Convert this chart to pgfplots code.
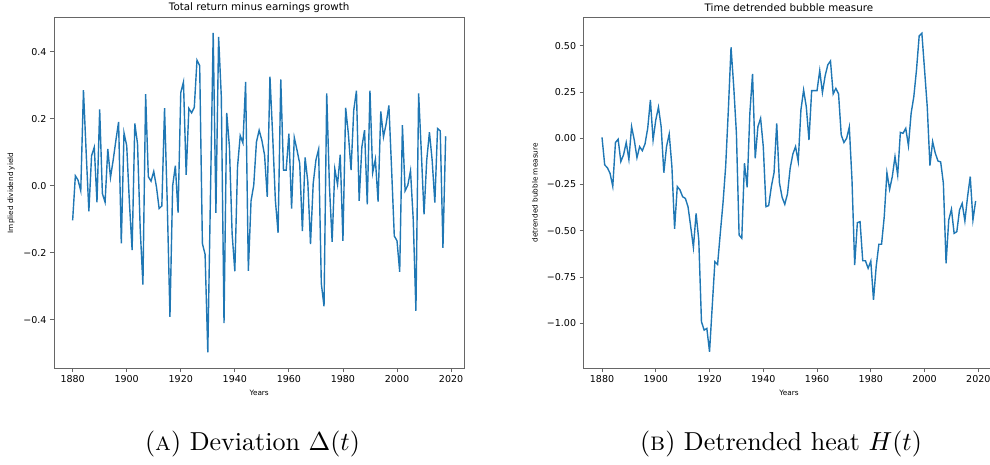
\documentclass[border=0pt]{standalone}
\usepackage{fontspec}
\usepackage{pgfplots}
\pgfplotsset{compat=1.18}
\newfontfamily\djv{DejaVu Sans}
\definecolor{mplblue}{HTML}{1F77B4}

\pgfplotstableread{
year val
1880 -0.103
1881 0.030
1882 0.017
1883 -0.015
1884 0.286
1885 0.10
1886 -0.076
1887 0.090
1888 0.115
1889 -0.049
1890 0.228
1891 -0.023
1892 -0.049
1893 0.110
1894 0.025
1895 0.077
1896 0.136
1897 0.191
1898 -0.172
1899 0.158
1900 0.120
1901 -0.05
1902 -0.192
1903 0.186
1904 0.126
1905 -0.13
1906 -0.295
1907 0.274
1908 0.027
1909 0.014
1910 0.043
1911 -0.003
1912 -0.068
1913 -0.060
1914 0.232
1915 -0.05
1916 -0.391
1917 0.000
1918 0.060
1919 -0.080
1920 0.278
1921 0.310
1922 0.033
1923 0.231
1924 0.218
1925 0.234
1926 0.375
1927 0.359
1928 -0.172
1929 -0.205
1930 -0.497
1931 -0.02
1932 0.457
1933 -0.081
1934 0.445
1935 0.266
1936 -0.410
1937 0.218
1938 0.117
1939 -0.143
1940 -0.255
1941 0.057
1942 0.150
1943 0.128
1944 0.310
1945 -0.254
1946 -0.045
1947 0.002
1948 0.131
1949 0.166
1950 0.136
1951 0.092
1952 -0.033
1953 0.326
1954 0.15
1955 -0.043
1956 -0.140
1957 0.318
1958 0.047
1959 0.047
1960 0.156
1961 -0.068
1962 0.144
1963 0.107
1964 0.067
1965 -0.135
1966 0.085
1967 0.012
1968 -0.174
1969 0.007
1970 0.077
1971 0.109
1972 -0.292
1973 -0.360
1974 0.276
1975 0.0
1976 -0.167
1977 0.050
1978 0.004
1979 0.093
1980 -0.164
1981 0.233
1982 0.156
1983 0.047
1984 0.226
1985 0.284
1986 -0.045
1987 0.116
1988 0.166
1989 -0.055
1990 0.284
1991 0.039
1992 0.079
1993 -0.047
1994 0.222
1995 0.146
1996 0.186
1997 0.240
1998 0.05
1999 -0.150
2000 -0.164
2001 -0.257
2002 0.181
2003 -0.015
2004 0.002
2005 0.045
2006 -0.10
2007 -0.373
2008 0.276
2009 0.10
2010 -0.085
2011 0.077
2012 0.160
2013 0.077
2014 -0.050
2015 0.171
2016 0.164
2017 -0.185
2018 0.148
}\deviation

\pgfplotstableread{
year val
1880 0.005
1881 -0.144
1882 -0.159
1883 -0.19
1884 -0.26
1885 -0.023
1886 -0.005
1887 -0.126
1888 -0.09
1889 -0.023
1890 -0.114
1891 0.063
1892 -0.009
1893 -0.105
1894 -0.045
1895 -0.067
1896 -0.03
1897 0.054
1898 0.207
1899 -0.009
1900 0.099
1901 0.168
1902 0.063
1903 -0.186
1904 -0.045
1905 0.023
1906 -0.153
1907 -0.489
1908 -0.261
1909 -0.279
1910 -0.316
1911 -0.325
1912 -0.37
1913 -0.478
1914 -0.59
1915 -0.406
1916 -0.55
1917 -0.992
1918 -1.037
1919 -1.028
1920 -1.154
1921 -0.91
1922 -0.667
1923 -0.682
1924 -0.514
1925 -0.352
1926 -0.153
1927 0.153
1928 0.492
1929 0.28
1930 0.027
1931 -0.523
1932 -0.541
1933 -0.135
1934 -0.265
1935 0.135
1936 0.348
1937 -0.108
1938 0.063
1939 0.108
1940 -0.045
1941 -0.37
1942 -0.364
1943 -0.261
1944 -0.186
1945 0.081
1946 -0.24
1947 -0.319
1948 -0.357
1949 -0.30
1950 -0.162
1951 -0.085
1952 -0.045
1953 -0.126
1954 0.153
1955 0.261
1956 0.17
1957 -0.009
1958 0.258
1959 0.258
1960 0.258
1961 0.366
1962 0.247
1963 0.337
1964 0.397
1965 0.418
1966 0.24
1967 0.27
1968 0.24
1969 0.018
1970 -0.023
1971 0.0
1972 0.061
1973 -0.225
1974 -0.685
1975 -0.456
1976 -0.451
1977 -0.662
1978 -0.662
1979 -0.703
1980 -0.664
1981 -0.874
1982 -0.694
1983 -0.573
1984 -0.573
1985 -0.424
1986 -0.186
1987 -0.276
1988 -0.207
1989 -0.099
1990 -0.198
1991 0.032
1992 0.027
1993 0.054
1994 -0.04
1995 0.135
1996 0.225
1997 0.37
1998 0.554
1999 0.568
2000 0.37
2001 0.17
2002 -0.148
2003 -0.018
2004 -0.081
2005 -0.123
2006 -0.128
2007 -0.243
2008 -0.676
2009 -0.442
2010 -0.384
2011 -0.514
2012 -0.505
2013 -0.388
2014 -0.352
2015 -0.447
2016 -0.316
2017 -0.207
2018 -0.442
2019 -0.339
}\heat

\pgfplotsset{mpl/.style={
  scale only axis,
  height=350.3pt,
  axis line style={draw=black!60, line width=0.9pt},
  tick pos=left, tick align=outside, major tick length=4pt,
  every tick/.style={draw=black!60, line width=0.8pt},
  ticklabel style={font=\fontsize{9.5}{11}\djv},
  every axis title/.style={font=\fontsize{10.3}{12}\djv, at={(axis description cs:0.5,1.0277)}, anchor=center},
  every axis x label/.style={at={(axis description cs:0.5,-0.07)}, anchor=center, font=\fontsize{7.3}{9}\djv},
  xtick={1880,1900,...,2020},
  xticklabels={1880,1900,1920,1940,1960,1980,2000,2020},
  xlabel={Years},
}}

\begin{document}
\begin{tikzpicture}
\useasboundingbox (0,0) rectangle (990pt,464pt);

\begin{axis}[mpl,
  at={(54pt,96pt)}, anchor=south west,
  width=410.3pt,
  xmin=1873.1, xmax=2024.9,
  ymin=-0.544, ymax=0.502,
  ytick={-0.4,-0.2,0,0.2,0.4},
  yticklabels={−0.4,−0.2,0.0,0.2,0.4},
  title={Total return minus earnings growth},
  ylabel={Implied dividend yield},
  every axis y label/.style={at={(axis description cs:-0.1048,0.5)}, anchor=center, rotate=90, font=\fontsize{7.3}{9}\djv},
]
\addplot[mplblue, line width=1.4pt] table[x=year, y=val] {\deviation};
\end{axis}

\begin{axis}[mpl,
  at={(583.6pt,96pt)}, anchor=south west,
  width=410.7pt,
  xmin=1873.15, xmax=2025.95,
  ymin=-1.242, ymax=0.652,
  ytick={-1,-0.75,-0.5,-0.25,0,0.25,0.5},
  yticklabels={−1.00,−0.75,−0.50,−0.25,0.00,0.25,0.50},
  title={Time detrended bubble measure},
  ylabel={detrended bubble measure},
  every axis y label/.style={at={(axis description cs:-0.1183,0.5)}, anchor=center, rotate=90, font=\fontsize{7.3}{9}\djv},
]
\addplot[mplblue, line width=1.4pt] table[x=year, y=val] {\heat};
\end{axis}

\node[anchor=base, scale=2.6, inner sep=0pt, font=\fontsize{10}{12}\selectfont] at (252.5pt,14pt) {(\textsc{a}) Deviation $\Delta(t)$};
\node[anchor=base, scale=2.6, inner sep=0pt, font=\fontsize{10}{12}\selectfont] at (781pt,14pt) {(\textsc{b}) Detrended heat $H(t)$};
\end{tikzpicture}
\end{document}
